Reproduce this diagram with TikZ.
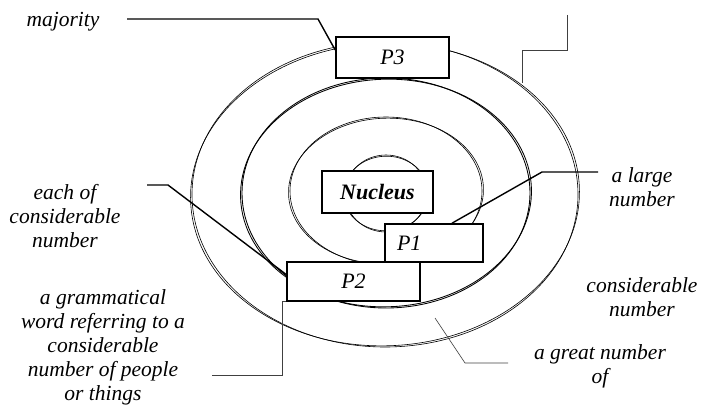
\documentclass[tikz,border=0pt]{standalone}
\usepackage{fontspec}
\setmainfont{Liberation Serif}
\usetikzlibrary{calc}
\tikzset{
    box/.style={rectangle, draw=black, line width=1.6pt, fill=white, inner sep=0pt,
        align=center, font=\fontsize{22}{24}\selectfont\itshape},
    lbl/.style={align=center, inner sep=0pt, font=\fontsize{21.5}{24}\selectfont\itshape},
    lead/.style={line width=1.4pt, draw=black},
    thinlead/.style={line width=0.6pt, draw=black!75},
    ringline/.style={line width=0.6pt, draw=black}
}
\newcommand{\ringpair}[4]{%
    \draw[ringline, line width=#4] #1 ellipse [x radius=#2, y radius=#3];
    \draw[ringline, line width=#4, rotate around={2:#1}] #1 ellipse [x radius=#2+1.5pt, y radius=#3-1.2pt];
}

\begin{document}
\begin{tikzpicture}[x=1pt, y=-1pt]
%% LAYOUT (y runs downwards):
%% rings centred near (386,193)
%% P3 on the outer ring, Nucleus in the middle, P1/P2 stacked below it
\useasboundingbox (0,0) rectangle (702,406);

%% ── RINGS ───────────────────────────────────────────────────────
\ringpair{(385,194.5)}{193pt}{152.5pt}{0.6pt}
\ringpair{(386,193)}{144pt}{115pt}{0.85pt}
\ringpair{(386,191)}{96pt}{74pt}{0.6pt}
\ringpair{(386,193.5)}{41pt}{38.5pt}{0.6pt}

%% ── BOXES ───────────────────────────────────────────────────────
\node[box, minimum width=113pt, minimum height=41pt] (p3) at (392.5,57.5) {P3};
\node[box, font=\fontsize{22}{24}\selectfont\bfseries\itshape,
      minimum width=111pt, minimum height=42pt] (nucleus) at (377.5,192) {Nucleus};
\node[box, minimum height=38pt, text width=74pt, align=left,
      inner xsep=12pt] (p1) at (434,243) {P1};
\node[box, minimum width=133pt, minimum height=39pt] (p2) at (353.5,281.5) {P2};

%% ── LABELS ──────────────────────────────────────────────────────
\node[lbl] (majority)     at (63,22)   {majority};
\node[lbl] (eachof)       at (65,216)  {each of\\considerable\\number};
\node[lbl] (grammatical)  at (103,347) {a grammatical\\word referring to a\\considerable\\number of people\\or things};
\node[lbl] (largenum)     at (642,187) {a large\\number};
\node[lbl] (considerable) at (642,297) {considerable\\number};
\node[lbl] (greatnum)     at (600,366) {a great number\\of};

%% ── LEADERS ─────────────────────────────────────────────────────
\coordinate (majstart)   at (127,19);
\coordinate (majbend)    at (318,19);
\coordinate (eachstart)  at (147,185);
\coordinate (eachbend)   at (168,185);
\coordinate (gramstart)  at (212,375);
\coordinate (trtop)      at (567,15);
\coordinate (trend)      at (522,83);
\coordinate (largestart) at (598,172);
\coordinate (largebend)  at (542,172);
\coordinate (greatstart) at (508,363);
\coordinate (greatbend)  at (465,363);
\coordinate (greatend)   at (435,318);

\draw[lead] (majstart) -- (majbend) -- ([yshift=7.5pt]p3.west);
\draw[lead] (eachstart) -- (eachbend) -- ([yshift=7pt]p2.west);
\draw[thinlead] (gramstart) -| ([xshift=-4pt]p2.south west) -- (p2.south west);
\draw[thinlead] (trtop) -- ++(0,35) -| (trend);
\draw[lead] (largestart) -- (largebend) -- ([xshift=18pt]p1.north);
\draw[thinlead] (greatstart) -- (greatbend) -- (greatend);

\end{tikzpicture}
\end{document}
